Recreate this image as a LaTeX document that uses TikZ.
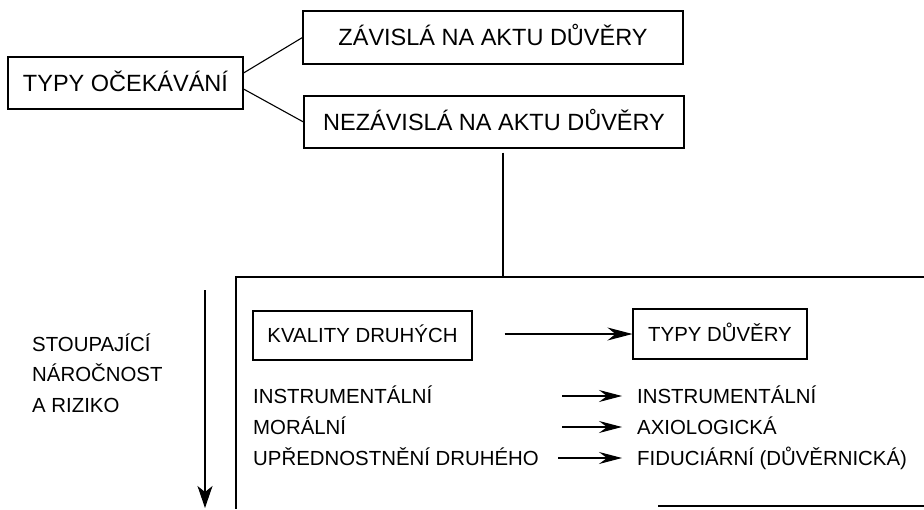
\documentclass[tikz,border=0pt]{standalone}
\usepackage{fontspec}
\setmainfont{Liberation Sans}
\usetikzlibrary{arrows.meta,calc}
\begin{document}
\begin{tikzpicture}[x=1pt,y=-1pt,
 big/.style={font=\fontsize{23.5}{28}\selectfont},
 small/.style={font=\fontsize{20.4}{24}\selectfont},
 bbox/.style={draw,line width=1.1pt,inner sep=0pt,text height=16.8pt,text depth=0pt},
 lbl/.style={small,inner sep=0pt,text height=14.6pt,text depth=0pt,anchor=west},
 ln/.style={line width=1.1pt},
 marr/.style={line width=1.1pt,-{Stealth[length=25pt,width=13pt,inset=8pt]}},
 sarr/.style={line width=1.1pt,-{Stealth[length=23pt,width=12pt,inset=8pt]}},
 varr/.style={line width=1.1pt,-{Stealth[length=22pt,width=15pt,inset=6pt]}}]
\useasboundingbox (0,0) rectangle (924,509);
% top boxes
\node[bbox,big,minimum width=235pt,minimum height=52pt] (typy) at (125.5,83) {TYPY OČEKÁVÁNÍ};
\node[bbox,big,minimum width=380pt,minimum height=53pt] (zav) at (493,37.5) {ZÁVISLÁ NA AKTU DŮVĚRY};
\node[bbox,big,minimum width=380pt,minimum height=52pt] (nez) at (494,122) {NEZÁVISLÁ NA AKTU DŮVĚRY};
\draw[ln] ([yshift=10pt]typy.east) -- (zav.west);
\draw[ln] ([yshift=-6pt]typy.east) -- (nez.west);
% big frame
\coordinate (bt) at (503,277);
\draw[ln] (924,277) -- (236,277) -- (236,509);
\draw[ln] (658,506) -- (924,506);
\draw[ln] ([xshift=9pt,yshift=-4pt]nez.south) -- (bt);
% left arrow and label
\coordinate (ra) at (205,290);
\coordinate (rb) at (205,508);
\draw[varr] (ra) -- (rb);
\node[lbl,anchor=base west] (s1) at (32,351) {STOUPAJÍCÍ};
\node[lbl,anchor=base west] (s2) at (32,381.5) {NÁROČNOST};
\node[lbl,anchor=base west] (s3) at (32,412) {A RIZIKO};
% inner boxes
\node[bbox,small,text height=14.6pt,minimum width=219pt,minimum height=49pt] (kval) at (362.5,335.5) {KVALITY DRUHÝCH};
\node[bbox,small,text height=14.6pt,minimum width=174pt,minimum height=50pt] (typyd) at (720,334) {TYPY DŮVĚRY};
\draw[marr] ([xshift=32pt]kval.east |- typyd.west) -- (typyd.west);
% rows
\node[lbl] (l1) at (253,396) {INSTRUMENTÁLNÍ};
\node[lbl] (l2) at (253,427) {MORÁLNÍ};
\node[lbl] (l3) at (253,458) {UPŘEDNOSTNĚNÍ DRUHÉHO};
\node[lbl] (r1) at (637,396) {INSTRUMENTÁLNÍ};
\node[lbl] (r2) at (637,427) {AXIOLOGICKÁ};
\node[lbl] (r3) at (637,458) {FIDUCIÁRNÍ (DŮVĚRNICKÁ)};
\draw[sarr] ([xshift=-75pt]r1.west) -- ([xshift=-15pt]r1.west);
\draw[sarr] ([xshift=-75pt]r2.west) -- ([xshift=-15pt]r2.west);
\draw[sarr] ([xshift=-79pt]r3.west) -- ([xshift=-15pt]r3.west);
\end{tikzpicture}
\end{document}
